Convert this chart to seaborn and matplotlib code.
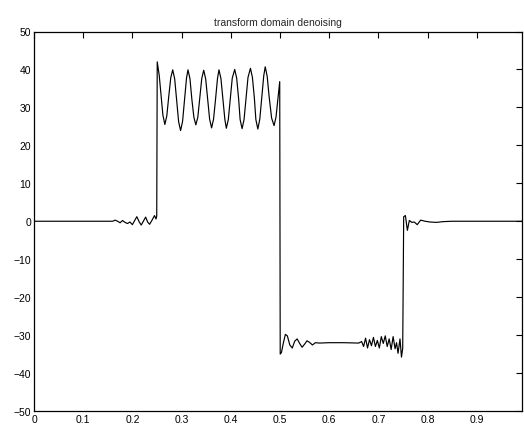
import matplotlib
matplotlib.use("Agg")
import matplotlib.pyplot as plt
import seaborn as sns
import numpy as np

# signal vertices
x_vals = [
    0.000, 0.160, 0.165, 0.170, 0.175, 0.180, 0.185, 0.190, 0.195, 0.200,
    0.205, 0.209, 0.214, 0.218, 0.223, 0.227, 0.231, 0.235, 0.240, 0.245,
    0.248, 0.2495, 0.2505,
    0.2545, 0.258, 0.262, 0.266, 0.270, 0.274, 0.278, 0.282, 0.286, 0.290,
    0.294, 0.298, 0.302, 0.306, 0.310, 0.313, 0.317, 0.321, 0.325, 0.329,
    0.333, 0.337, 0.341, 0.345, 0.349, 0.353, 0.357, 0.361, 0.365, 0.369,
    0.373, 0.376, 0.380, 0.384, 0.388, 0.391, 0.395, 0.399, 0.403, 0.408,
    0.412, 0.416, 0.419, 0.423, 0.427, 0.431, 0.435, 0.440, 0.444, 0.448,
    0.451, 0.455, 0.459, 0.463, 0.467, 0.470, 0.474, 0.478, 0.483, 0.488,
    0.492, 0.496, 0.4995, 0.5005,
    0.503, 0.507, 0.511, 0.515, 0.520, 0.525, 0.530, 0.535, 0.540, 0.545,
    0.550, 0.555, 0.560, 0.566, 0.572, 0.580, 0.600, 0.630, 0.660, 0.666,
    0.670, 0.674, 0.678, 0.682, 0.686, 0.690, 0.694, 0.698, 0.702, 0.706,
    0.710, 0.714, 0.718, 0.722, 0.726, 0.730, 0.734, 0.737, 0.740, 0.744,
    0.747, 0.7495, 0.7515,
    0.755, 0.759, 0.763, 0.768, 0.773, 0.779, 0.786, 0.795, 0.805, 0.818,
    0.832, 0.850, 0.900, 0.992,
]
y_vals = [
    0.0, 0.0, 0.3, 0.0, -0.4, 0.2, -0.3, -0.6, -0.2, -0.9,
    0.3, 1.2, -0.2, -1.0, 0.2, 1.1, -0.2, -0.8, 0.3, 1.5,
    0.6, 1.4, 42.0,
    38.5, 33.5, 28.0, 25.5, 27.8, 33.0, 37.8, 39.9, 37.5, 31.8,
    26.2, 23.9, 26.3, 31.9, 37.7, 39.9, 37.6, 32.0, 27.4, 25.4,
    27.4, 32.4, 37.6, 39.8, 37.5, 32.1, 26.9, 24.6, 26.9, 32.1,
    37.6, 39.9, 37.6, 32.1, 26.8, 24.5, 26.8, 32.1, 37.7, 40.0,
    37.7, 32.2, 26.8, 24.4, 26.8, 32.2, 37.9, 40.3, 37.9, 32.4,
    26.8, 24.3, 26.9, 32.6, 38.3, 40.7, 38.2, 32.8, 27.2, 25.2,
    27.5, 32.5, 36.8, -35.0,
    -34.6, -32.0, -29.8, -30.2, -32.6, -33.4, -31.6, -31.0, -32.2, -33.2,
    -32.4, -31.5, -31.9, -32.6, -32.0, -32.1, -32.0, -32.0, -32.1, -31.7,
    -33.0, -30.8, -33.4, -31.2, -32.8, -30.6, -33.0, -31.4, -33.4, -30.4,
    -32.2, -30.2, -33.0, -31.0, -33.8, -30.4, -33.6, -32.0, -34.8, -31.0,
    -35.8, -33.5, 1.2,
    1.5, -2.4, 0.2, -0.3, -0.2, -0.9, 0.3, 0.0, -0.2, -0.3,
    -0.1, 0.0, 0.0, 0.0,
]

y_ticks = [-50, -40, -30, -20, -10, 0, 10, 20, 30, 40, 50]
x_ticks = [0, 0.1, 0.2, 0.3, 0.4, 0.5, 0.6, 0.7, 0.8, 0.9]
x_tick_labels = ["0", "0.1", "0.2", "0.3", "0.4", "0.5", "0.6", "0.7", "0.8", "0.9"]
y_tick_labels = ["\u221250", "\u221240", "\u221230", "\u221220", "\u221210", "0",
                 "10", "20", "30", "40", "50"]
title_text = "transform domain denoising"

sns.set_style("white")
plt.rcParams["font.family"] = ["Liberation Sans", "DejaVu Sans"]

fig = plt.figure(figsize=(5.24, 4.31), dpi=100)
ax = fig.add_axes([34 / 524, (431 - 412) / 431, (522 - 34) / 524, (412 - 32.5) / 431])

sns.lineplot(x=x_vals, y=y_vals, ax=ax, color="black", linewidth=0.85,
             estimator=None, sort=False)

ax.set_xlim(0, 0.992)
ax.set_ylim(-50, 50)
ax.set_xticks(x_ticks)
ax.set_xticklabels(x_tick_labels)
ax.set_yticks(y_ticks)
ax.set_yticklabels(y_tick_labels)
ax.tick_params(direction="in", length=4, width=0.8, top=True, right=True,
               labelsize=7.5, pad=2, colors="black")
for s in ax.spines.values():
    s.set_visible(True)
    s.set_color("black")
    s.set_linewidth(0.9)
ax.set_title(title_text, fontsize=7.5, pad=5)
ax.set_xlabel("")
ax.set_ylabel("")

fig.savefig("out.png", dpi=100)
